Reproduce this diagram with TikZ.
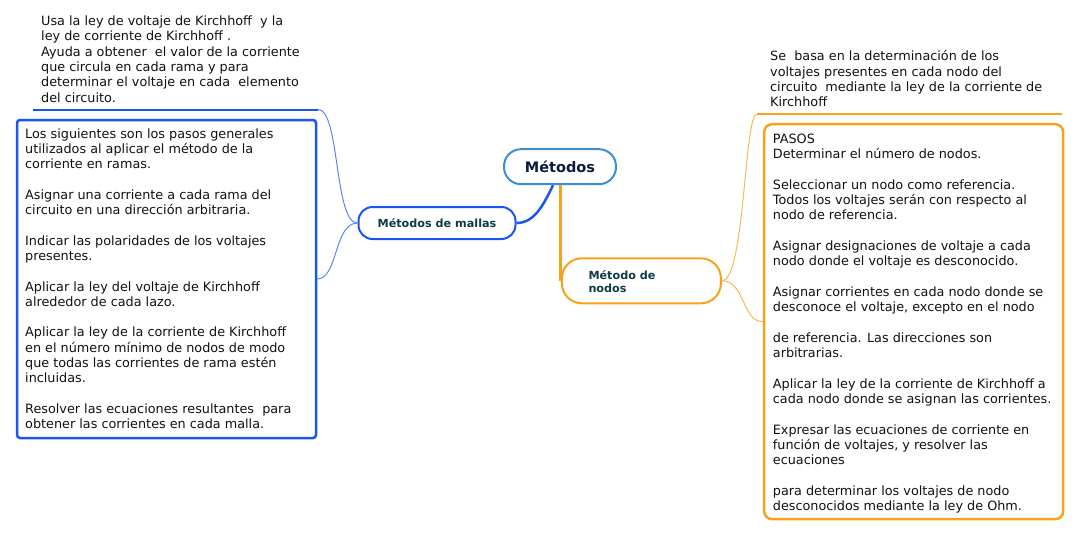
\documentclass[tikz,border=0pt]{standalone}
\usepackage{fontspec}
\setmainfont{DejaVu Sans}
\definecolor{txt}{HTML}{111111}
\definecolor{bvivid}{HTML}{1A55F0}
\definecolor{blight}{HTML}{5A88F2}
\definecolor{rootblue}{HTML}{3A8ED4}
\definecolor{ovivid}{HTML}{F7A21B}
\definecolor{olight}{HTML}{F9B954}
\definecolor{teal}{HTML}{0D3B47}
\definecolor{navy}{HTML}{0A1A40}
\newcommand{\blocktext}[1]{\parbox[t]{330pt}{\raggedright #1}}
\tikzset{
  body/.style={anchor=base west, inner sep=0pt, text=txt,
    font=\fontsize{12.8}{15.3}\selectfont},
  pill/.style={draw, fill=white, line width=2pt, inner sep=0pt},
  lbl/.style={font=\fontsize{11.2}{13.7}\selectfont\bfseries, text=teal},
  thinblue/.style={draw=blight, line width=1pt},
  thinorange/.style={draw=olight, line width=1pt},
}
\begin{document}
\begin{tikzpicture}[x=1pt,y=-1pt]
\useasboundingbox (0,0) rectangle (1077,533);

% boxes
\node[draw=bvivid, line width=2.5pt, rounded corners=3pt, minimum width=299pt, minimum height=318pt, inner sep=0pt] (bbox) at (166.5,279) {};
\node[draw=ovivid, line width=2.5pt, rounded corners=8pt, minimum width=299pt, minimum height=395pt, inner sep=0pt] (obox) at (913.7,321.7) {};

% central and branch nodes
\node[pill, draw=rootblue, rounded corners=17pt, minimum width=112pt, minimum height=35pt,
  font=\fontsize{14.5}{16}\selectfont\bfseries, text=navy, text height=12pt, text depth=0pt] (metodos) at (560,166.7) {Métodos};
\node[pill, draw=bvivid, rounded corners=14pt, minimum width=157pt, minimum height=32pt,
  lbl, text height=9.4pt, text depth=0pt] (mallas) at (437,223) {Métodos de mallas};
\node[pill, draw=ovivid, rounded corners=20pt, minimum width=159pt, minimum height=45pt] (nodos) at (641.4,280.8) {};
\node[lbl, anchor=base west, inner sep=0pt] (nodostxt) at (588.3,279) {\parbox[t]{100pt}{\raggedright Método de\\nodos}};

% main connectors
\draw[bvivid, line width=2.5pt] ([xshift=-7pt]metodos.south) .. controls (543,206) and (534,223) .. (mallas.east);
\draw[ovivid, line width=3pt] (nodos.west |- metodos.south) -- (nodos.west);

% top-left note
\node[body] (notel) at (41,25.5) {\blocktext{Usa la ley de voltaje de Kirchhoff\ \ y la\\
ley de corriente de Kirchhoff .\\
Ayuda a obtener\ \ el valor de la corriente\\
que circula en cada rama y para\\
determinar el voltaje en cada\ \ elemento\\
del circuito.}};
\coordinate (ula) at (33,109.5);
\coordinate (ulb) at (318,109.5);
\draw[bvivid, line width=2pt] (ula) -- (ulb);
\draw[thinblue] (ulb) .. controls (340,109.5) and (334,223) .. (mallas.west);
\draw[thinblue] (mallas.west) .. controls (334,223) and (338,279) .. (bbox.east);

% blue box text
\node[body] (bluetxt) at (25,138) {\blocktext{Los siguientes son los pasos generales\\
utilizados al aplicar el método de la\\
corriente en ramas.\\[15.3pt]
Asignar una corriente a cada rama del\\
circuito en una dirección arbitraria.\\[15.3pt]
Indicar las polaridades de los voltajes\\
presentes.\\[15.3pt]
Aplicar la ley del voltaje de Kirchhoff\\
alrededor de cada lazo.\\[15.3pt]
Aplicar la ley de la corriente de Kirchhoff\\
en el número mínimo de nodos de modo\\
que todas las corrientes de rama estén\\
incluidas.\\[15.3pt]
Resolver las ecuaciones resultantes\ \ para\\
obtener las corrientes en cada malla.}};

% top-right note
\node[body] (noter) at (770,60.7) {\blocktext{Se\ \ basa en la determinación de los\\
voltajes presentes en cada nodo del\\
circuito\ \ mediante la ley de la corriente de\\
Kirchhoff}};
\coordinate (ura) at (757,114);
\coordinate (urb) at (1062,114);
\draw[ovivid, line width=2pt] (ura) -- (urb);
\draw[thinorange] (nodos.east) .. controls (745,280.8) and (744,114) .. (ura);
\draw[thinorange] (nodos.east) .. controls (745,280.8) and (742,321.7) .. (obox.west);

% orange box text
\node[body] (orangetxt) at (772.7,143.3) {\blocktext{PASOS\\
Determinar el número de nodos.\\[15.3pt]
Seleccionar un nodo como referencia.\\
Todos los voltajes serán con respecto al\\
nodo de referencia.\\[15.3pt]
Asignar designaciones de voltaje a cada\\
nodo donde el voltaje es desconocido.\\[15.3pt]
Asignar corrientes en cada nodo donde se\\
desconoce el voltaje, excepto en el nodo\\[15.3pt]
de referencia. Las direcciones son\\
arbitrarias.\\[15.3pt]
Aplicar la ley de la corriente de Kirchhoff a\\
cada nodo donde se asignan las corrientes.\\[15.3pt]
Expresar las ecuaciones de corriente en\\
función de voltajes, y resolver las\\
ecuaciones\\[15.3pt]
para determinar los voltajes de nodo\\
desconocidos mediante la ley de Ohm.}};
\end{tikzpicture}
\end{document}
